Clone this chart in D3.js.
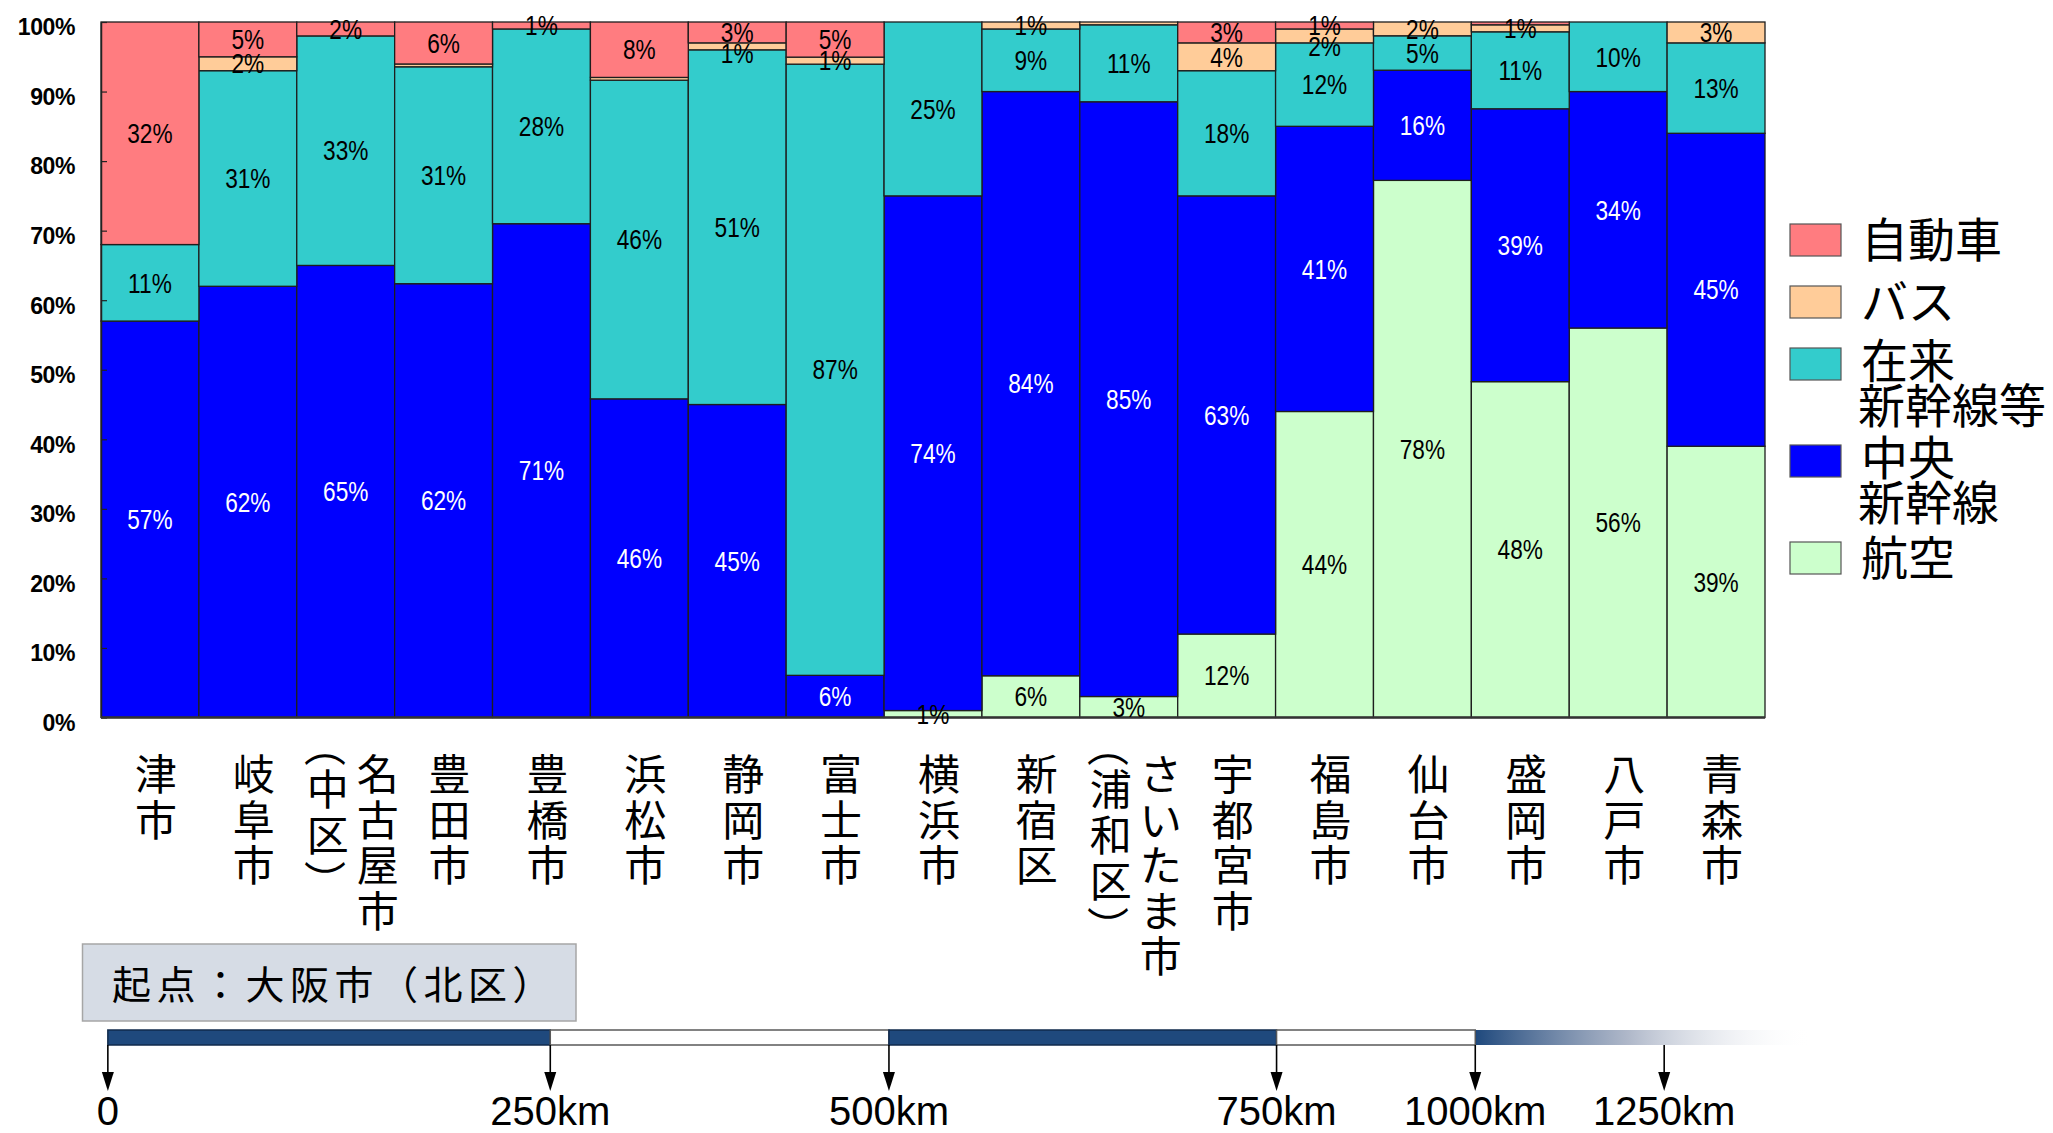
<!DOCTYPE html>
<html>
<head>
<meta charset="utf-8">
<script src="https://cdn.jsdelivr.net/npm/d3@7"></script>
<style>
  html, body { margin: 0; padding: 0; background: #fff; }
  svg { display: block; }
</style>
</head>
<body>
<svg id="chart" width="2053" height="1133"></svg>
<script>
// Destination cities; each entry lists the vertical text columns (read right to left)
const cities = [
  ["津市"], ["岐阜市"], ["名古屋市", "（中区）"], ["豊田市"], ["豊橋市"], ["浜松市"],
  ["静岡市"], ["富士市"], ["横浜市"], ["新宿区"], ["さいたま市", "（浦和区）"],
  ["宇都宮市"], ["福島市"], ["仙台市"], ["盛岡市"], ["八戸市"], ["青森市"]
];

// Modal share (%) per city, stacked from the bottom up
const modes = ["航空", "中央新幹線", "在来新幹線等", "バス", "自動車"];
const air    = [0, 0, 0, 0, 0, 0, 0, 0, 1, 6, 3, 12, 44, 78, 48, 56, 39];
const chuo   = [57, 62, 65, 62, 71, 46, 45, 6, 74, 84, 85, 63, 41, 16, 39, 34, 45];
const zairai = [11, 31, 33, 31, 28, 46, 51, 87, 25, 9, 11, 18, 12, 5, 11, 10, 13];
const bus    = [0, 2, 0, 0.4, 0, 0.4, 1, 1, 0, 1, 0.4, 4, 2, 2, 1, 0, 3];
const car    = [32, 5, 2, 6, 1, 8, 3, 5, 0, 0, 0, 3, 1, 0, 0.4, 0, 0];

// Legend entries, top to bottom, with their line breaks
const legendModes = ["自動車", "バス", "在来新幹線等", "中央新幹線", "航空"];
const legendLines = [["自動車"], ["バス"], ["在来", "新幹線等"], ["中央", "新幹線"], ["航空"]];

const yTicks = [0, 0.1, 0.2, 0.3, 0.4, 0.5, 0.6, 0.7, 0.8, 0.9, 1];

// Distance ruler below the chart
const distanceKm = [0, 250, 500, 750, 1000, 1250];
const distanceLabels = ["0", "250km", "500km", "750km", "1000km", "1250km"];
const originLabel = "起点：大阪市（北区）";

// ---------------------------------------------------------------------------
const colors = {
  "自動車": "#FF7C80",
  "バス": "#FFCC99",
  "在来新幹線等": "#33CCCC",
  "中央新幹線": "#0000FF",
  "航空": "#CCFFCC"
};
const seriesValues = { "航空": air, "中央新幹線": chuo, "在来新幹線等": zairai, "バス": bus, "自動車": car };
const cjkFont = "'Noto Sans CJK JP', 'Noto Sans CJK SC', sans-serif";
const latinFont = "'Liberation Sans', Arial, sans-serif";

const svg = d3.select("#chart");
const plot = { left: 101, right: 1765, top: 22, bottom: 717.5 };

const rows = cities.map((c, i) => {
  const r = { idx: i };
  modes.forEach(m => { r[m] = seriesValues[m][i]; });
  return r;
});

const x = d3.scaleBand().domain(d3.range(cities.length)).range([plot.left, plot.right]).padding(0);
const y = d3.scaleLinear().domain([0, 1]).range([plot.bottom, plot.top]);

const stack = d3.stack().keys(modes).offset(d3.stackOffsetExpand);
const layers = stack(rows);

// Stacked bars
const gBars = svg.append("g");
layers.forEach(layer => {
  gBars.selectAll(null)
    .data(layer.filter(d => d[1] - d[0] > 0))
    .join("rect")
    .attr("x", d => x(d.data.idx))
    .attr("width", x.bandwidth())
    .attr("y", d => y(d[1]))
    .attr("height", d => y(d[0]) - y(d[1]))
    .attr("fill", colors[layer.key])
    .attr("stroke", "#1e1e1e")
    .attr("stroke-width", 1.3);
});

// Y axis with inward ticks
const yAxis = d3.axisLeft(y).tickValues(yTicks).tickFormat(d3.format(".0%"))
  .tickSizeInner(-6).tickSizeOuter(0).tickPadding(26);
const gY = svg.append("g").attr("transform", `translate(${plot.left},0)`).call(yAxis);
gY.select(".domain").attr("stroke", "#222").attr("stroke-width", 1.5);
gY.selectAll(".tick line").attr("stroke", "#222").attr("stroke-width", 1.2);
gY.selectAll(".tick text")
  .attr("font-family", latinFont)
  .attr("font-weight", "bold")
  .attr("font-size", 23)
  .attr("letter-spacing", -0.4)
  .attr("fill", "#000")
  .attr("dy", "0.56em");

// Baseline
svg.append("line")
  .attr("x1", plot.left).attr("x2", plot.right)
  .attr("y1", y(0)).attr("y2", y(0))
  .attr("stroke", "#333").attr("stroke-width", 2.5);

// Value labels: centred in each segment, nudged apart from the top down
const gLabels = svg.append("g");
const minGap = 21;
rows.forEach((r, i) => {
  const segs = [];
  layers.forEach(layer => {
    const d = layer[i];
    const v = r[layer.key];
    if (v >= 1) {
      segs.push({ key: layer.key, v, cy: (y(d[0]) + y(d[1])) / 2 });
    }
  });
  segs.sort((a, b) => a.cy - b.cy);
  for (let k = 1; k < segs.length; k++) {
    segs[k].cy = Math.max(segs[k].cy, segs[k - 1].cy + minGap);
  }
  const cx = x(i) + x.bandwidth() / 2;
  segs.forEach(s => {
    gLabels.append("text")
      .attr("transform", `translate(${cx},${s.cy}) scale(0.84,1)`)
      .attr("text-anchor", "middle")
      .attr("dy", "0.36em")
      .attr("font-family", latinFont)
      .attr("font-size", 27)
      .attr("fill", s.key === "中央新幹線" ? "#fff" : "#000")
      .text(`${Math.round(s.v)}%`);
  });
});

// City names, written vertically
const cityFont = 42;
const gCities = svg.append("g")
  .attr("font-family", cjkFont)
  .attr("font-size", cityFont)
  .attr("fill", "#000")
  .attr("text-anchor", "middle");

// brackets are turned a quarter turn so they read as vertical brackets
function bracket(ch, cx, cy) {
  gCities.append("text")
    .attr("transform", `translate(${cx},${cy}) rotate(90)`)
    .attr("dominant-baseline", "central")
    .text(ch);
}

cities.forEach((cols, i) => {
  const cx = x(i) + x.bandwidth() / 2;
  cols.forEach((col, c) => {
    let colX;
    if (cols.length === 1) colX = cx + 6;
    else colX = c === 0 ? cx + 32 : cx - 18;
    const chars = Array.from(col);
    if (c === 0) {
      chars.forEach((ch, k) => {
        gCities.append("text")
          .attr("x", colX).attr("y", 775 + k * 45.5)
          .attr("dy", "0.36em")
          .text(ch);
      });
    } else {
      // bracketed column: half-height brackets, body characters on a 46px pitch
      let k = 0;
      let lastY = 790 - 46;
      chars.forEach(ch => {
        if (ch === "（") {
          bracket(ch, colX, 746);
        } else if (ch === "）") {
          bracket(ch, colX, lastY + 45);
        } else {
          lastY = 790 + k * 46;
          gCities.append("text").attr("x", colX).attr("y", lastY).attr("dy", "0.36em").text(ch);
          k++;
        }
      });
    }
  });
});

// Legend
const gLeg = svg.append("g")
  .attr("font-family", cjkFont)
  .attr("font-size", 47)
  .attr("fill", "#000");
let legY = 240;
legendModes.forEach((m, i) => {
  gLeg.append("rect")
    .attr("x", 1790).attr("y", legY - 16)
    .attr("width", 51).attr("height", 32)
    .attr("fill", colors[m])
    .attr("stroke", "#555").attr("stroke-width", 1.2);
  legendLines[i].forEach((line, j) => {
    gLeg.append("text")
      .attr("x", j === 0 ? 1861 : 1858)
      .attr("y", legY - (legendLines[i].length > 1 ? 3 : 0) + j * 45)
      .attr("dy", "0.36em")
      .text(line);
  });
  legY += 62 + (legendLines[i].length - 1) * 35;
});

// Origin box
svg.append("rect")
  .attr("x", 82.5).attr("y", 944).attr("width", 493.5).attr("height", 77)
  .attr("fill", "#D6DCE5").attr("stroke", "#A6A6A6").attr("stroke-width", 1.5);
svg.append("text")
  .attr("x", 112).attr("y", 985).attr("dy", "0.36em")
  .attr("font-family", cjkFont)
  .attr("font-size", 39)
  .attr("letter-spacing", 5.5)
  .attr("fill", "#000")
  .text(originLabel);

// Distance ruler: schematic km scale aligned to the city bars
const kmUnit = d3.scaleLinear().domain(distanceKm).range([0.07, 4.59, 8.05, 12.01, 14.04, 15.97]);
const xKm = km => plot.left + kmUnit(km) * x.step();
const barTop = 1030, barH = 15;
const navy = "#1F497D";

const defs = svg.append("defs");
const fadeEnd = plot.right + 47;
const grad = defs.append("linearGradient").attr("id", "fade")
  .attr("gradientUnits", "userSpaceOnUse")
  .attr("x1", xKm(1000)).attr("x2", fadeEnd).attr("y1", 0).attr("y2", 0);
grad.append("stop").attr("offset", 0).attr("stop-color", navy).attr("stop-opacity", 1);
grad.append("stop").attr("offset", 0.45).attr("stop-color", "#9aa5bb").attr("stop-opacity", 0.8);
grad.append("stop").attr("offset", 1).attr("stop-color", "#ffffff").attr("stop-opacity", 0);

const gRuler = svg.append("g");
gRuler.append("rect")
  .attr("x", xKm(1000)).attr("y", barTop)
  .attr("width", fadeEnd - xKm(1000)).attr("height", barH)
  .attr("fill", "url(#fade)");
d3.pairs(distanceKm.slice(0, 5)).forEach(([a, b], i) => {
  gRuler.append("rect")
    .attr("x", xKm(a)).attr("y", barTop)
    .attr("width", xKm(b) - xKm(a)).attr("height", barH)
    .attr("fill", i % 2 === 0 ? navy : "#fff")
    .attr("stroke", i % 2 === 0 ? "#102a4c" : "#595959")
    .attr("stroke-width", 1.5);
});
distanceKm.forEach((km, i) => {
  const xx = xKm(km);
  gRuler.append("line")
    .attr("x1", xx).attr("x2", xx)
    .attr("y1", barTop + barH).attr("y2", 1076)
    .attr("stroke", "#000").attr("stroke-width", 1.6);
  gRuler.append("path")
    .attr("d", `M${xx - 6},1072 L${xx + 6},1072 L${xx},1091 Z`)
    .attr("fill", "#000");
  gRuler.append("text")
    .attr("x", xx).attr("y", 1125)
    .attr("text-anchor", "middle")
    .attr("font-family", latinFont)
    .attr("font-size", 40)
    .attr("fill", "#000")
    .text(distanceLabels[i]);
});
</script>
</body>
</html>
